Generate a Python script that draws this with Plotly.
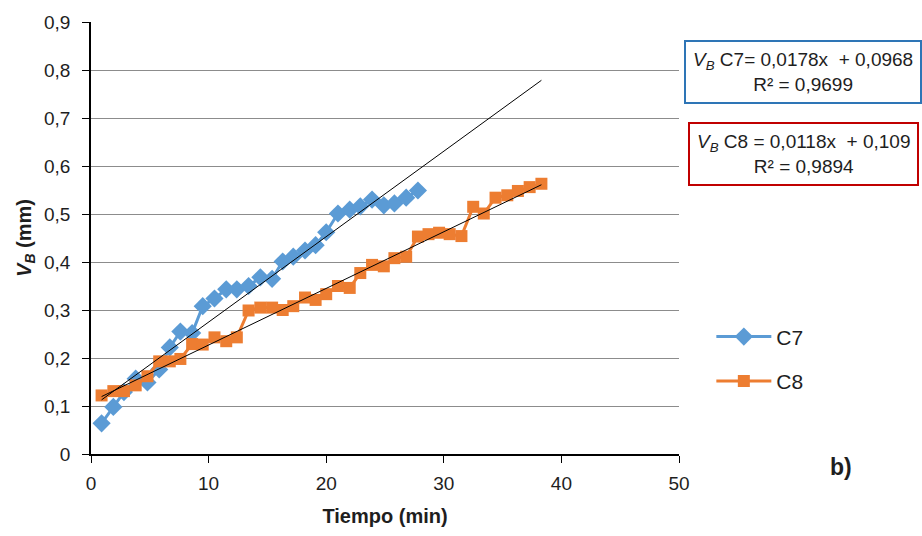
import plotly.graph_objects as go

# ---- data ----
tiempo = [0.9, 1.9, 2.8, 3.8, 4.8, 5.8, 6.7, 7.6, 8.6, 9.5, 10.5, 11.5, 12.4, 13.4,
          14.4, 15.4, 16.3, 17.2, 18.2, 19.1, 20.0, 21.0, 22.0, 22.9, 23.9, 24.9,
          25.8, 26.8, 27.8, 28.7, 29.6, 30.5, 31.5, 32.5, 33.4, 34.4, 35.4, 36.3,
          37.3, 38.3]

vb_c7 = [0.064, 0.098, 0.129, 0.157, 0.149, 0.176, 0.222, 0.255, 0.252, 0.308,
         0.324, 0.343, 0.343, 0.350, 0.368, 0.365, 0.401, 0.411, 0.424, 0.435,
         0.462, 0.501, 0.509, 0.516, 0.530, 0.518, 0.522, 0.534, 0.549]

vb_c8 = [0.122, 0.131, 0.131, 0.143, 0.162, 0.193, 0.193, 0.198, 0.229, 0.228,
         0.243, 0.235, 0.243, 0.299, 0.305, 0.305, 0.300, 0.308, 0.326, 0.321,
         0.333, 0.350, 0.346, 0.377, 0.394, 0.391, 0.408, 0.411, 0.453, 0.458,
         0.461, 0.458, 0.454, 0.515, 0.501, 0.534, 0.539, 0.548, 0.556, 0.563]

fit_c7 = (0.0178, 0.0968)
fit_c8 = (0.0118, 0.109)

y_ticks = [0, 0.1, 0.2, 0.3, 0.4, 0.5, 0.6, 0.7, 0.8, 0.9]
y_tick_labels = ["0", "0,1", "0,2", "0,3", "0,4", "0,5", "0,6", "0,7", "0,8", "0,9"]
x_ticks = [0, 10, 20, 30, 40, 50]

BLUE = "#5B9BD5"
ORANGE = "#ED7D31"
FONT = "Liberation Sans Narrow, Arial Narrow, Liberation Sans, Arial, sans-serif"
TXT = "#1E1E1E"

fig = go.Figure()

fig.add_trace(go.Scatter(
    x=tiempo[:len(vb_c7)], y=vb_c7, name="C7", mode="lines+markers",
    line=dict(color=BLUE, width=3),
    marker=dict(symbol="diamond", size=14, color=BLUE),
    legendgroup="c7"))
fig.add_trace(go.Scatter(
    x=tiempo, y=vb_c8, name="C8", mode="lines+markers",
    line=dict(color=ORANGE, width=3),
    marker=dict(symbol="square", size=12, color=ORANGE),
    legendgroup="c8"))

# trendlines over the data x-range
x0, x1 = min(tiempo), max(tiempo)
for (m, b) in (fit_c7, fit_c8):
    fig.add_trace(go.Scatter(
        x=[x0, x1], y=[m * x0 + b, m * x1 + b], mode="lines",
        line=dict(color="black", width=1), showlegend=False, hoverinfo="skip"))

fig.update_layout(
    width=922, height=536,
    margin=dict(l=91, r=243, t=20, b=80),
    plot_bgcolor="white", paper_bgcolor="white",
    font=dict(family=FONT, size=19, color=TXT),
    showlegend=True,
    legend=dict(x=1.055, y=0.22, xanchor="left", yanchor="middle",
                font=dict(size=21, family=FONT, color=TXT),
                itemwidth=55, tracegroupgap=14, traceorder="grouped",
                bgcolor="rgba(0,0,0,0)"),
    xaxis=dict(range=[0, 50], tickvals=x_ticks, showgrid=False,
               showline=True, linecolor="black", linewidth=1.5,
               ticks="outside", ticklen=7, tickcolor="black", zeroline=False,
               ticklabelstandoff=4,
               title=dict(text="<b>Tiempo (min)</b>", font=dict(size=20, family=FONT), standoff=16)),
    yaxis=dict(range=[0, 0.9], tickvals=y_ticks, ticktext=y_tick_labels,
               showgrid=True, gridcolor="#8C8C8C", gridwidth=1,
               showline=True, linecolor="black", linewidth=1.5,
               ticks="outside", ticklen=7, tickcolor="black", zeroline=False,
               ticklabelstandoff=8,
               title=dict(text="<b><i>V<sub>B</sub></i> (mm)</b>", font=dict(size=20, family=FONT), standoff=7)),
)

fig.add_annotation(
    xref="paper", yref="paper", x=1.008, y=0.885, xanchor="left", yanchor="middle",
    text="<i>V<sub>B</sub></i> C7= 0,0178x  + 0,0968<br>R² = 0,9699",
    showarrow=False, align="center", font=dict(size=19, family=FONT, color=TXT),
    bordercolor="#2E75B6", borderwidth=2, borderpad=7, bgcolor="white")
fig.add_annotation(
    xref="paper", yref="paper", x=1.015, y=0.694, xanchor="left", yanchor="middle",
    text="<i>V<sub>B</sub></i> C8 = 0,0118x  + 0,109<br>R² = 0,9894",
    showarrow=False, align="center", font=dict(size=19, family=FONT, color=TXT),
    bordercolor="#C00000", borderwidth=2, borderpad=7, bgcolor="white")
fig.add_annotation(
    xref="paper", yref="paper", x=1.275, y=-0.03, xanchor="center", yanchor="middle",
    text="<b>b)</b>", showarrow=False, font=dict(size=23, family=FONT, color=TXT))

fig.write_html("out.html")
